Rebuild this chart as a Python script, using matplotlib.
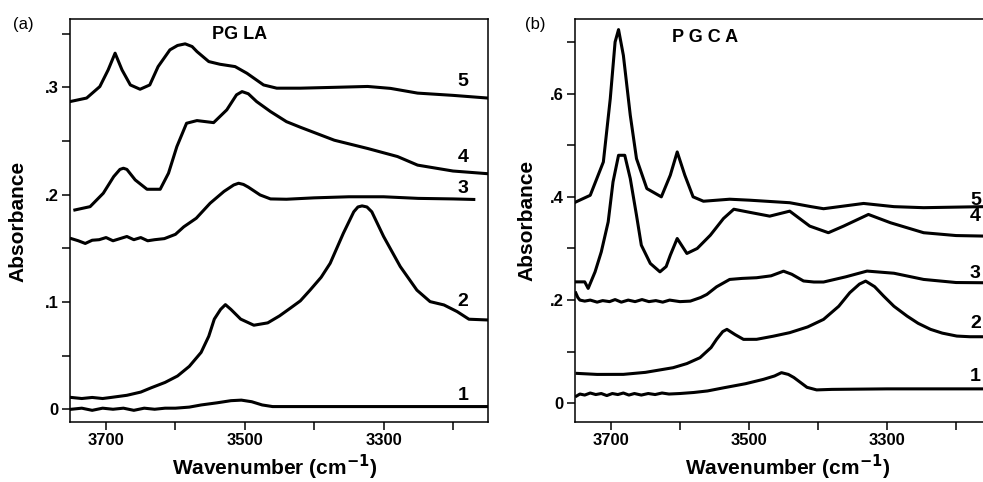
import matplotlib
matplotlib.use("Agg")
import matplotlib.pyplot as plt
from matplotlib.ticker import FixedLocator, MultipleLocator, FuncFormatter

plt.rcParams['font.family'] = ['Liberation Sans', 'DejaVu Sans']

# ---- (a) PGLA spectra: wavenumber / absorbance pairs ----
a1_w = [3750, 3735, 3720, 3705, 3690, 3675, 3660, 3645, 3630, 3615, 3600, 3580, 3563, 3540,
        3520, 3505, 3490, 3475, 3460, 3400, 3300, 3150]
a1_y = [0.000, 0.001, -0.001, 0.001, 0.000, 0.001, -0.001, 0.001, 0.000, 0.001, 0.001, 0.002,
        0.004, 0.006, 0.008, 0.0085, 0.007, 0.004, 0.0025, 0.0025, 0.0025, 0.0025]

a2_w = [3750, 3735, 3720, 3705, 3693, 3670, 3650, 3635, 3615, 3597, 3580, 3563, 3552, 3544,
        3535, 3528, 3520, 3506, 3487, 3467, 3450, 3434, 3420, 3406, 3390, 3377, 3358, 3343,
        3337, 3331, 3324, 3317, 3300, 3276, 3252, 3233, 3213, 3194, 3177, 3150]
a2_y = [0.011, 0.010, 0.011, 0.010, 0.011, 0.013, 0.016, 0.020, 0.025, 0.031, 0.040, 0.053,
        0.068, 0.084, 0.093, 0.0975, 0.093, 0.084, 0.0783, 0.0805, 0.087, 0.0944, 0.101, 0.111,
        0.123, 0.136, 0.164, 0.184, 0.1885, 0.1895, 0.1885, 0.184, 0.161, 0.133, 0.111, 0.1003,
        0.0972, 0.091, 0.0839, 0.0832]

a3_w = [3750, 3740, 3730, 3720, 3710, 3700, 3690, 3680, 3670, 3660, 3650, 3640, 3630, 3616,
        3600, 3588, 3570, 3550, 3530, 3516, 3509, 3502, 3495, 3478, 3463, 3440, 3400, 3350,
        3300, 3250, 3200, 3170]
a3_y = [0.159, 0.157, 0.1545, 0.1575, 0.158, 0.160, 0.157, 0.159, 0.161, 0.158, 0.160, 0.157,
        0.158, 0.159, 0.163, 0.170, 0.178, 0.192, 0.203, 0.209, 0.2106, 0.2095, 0.207, 0.1997,
        0.196, 0.1957, 0.197, 0.198, 0.198, 0.1965, 0.196, 0.1955]

a4_w = [3745, 3723, 3704, 3689, 3680, 3675, 3670, 3658, 3641, 3622, 3610, 3598, 3584, 3569,
        3545, 3526, 3512, 3504, 3495, 3483, 3463, 3440, 3420, 3371, 3323, 3280, 3251, 3200,
        3150]
a4_y = [0.1857, 0.1888, 0.2013, 0.2168, 0.2235, 0.2246, 0.2235, 0.2137, 0.205, 0.205, 0.22,
        0.2447, 0.2665, 0.269, 0.2671, 0.279, 0.293, 0.296, 0.294, 0.2867, 0.2774, 0.268,
        0.2628, 0.2507, 0.243, 0.2355, 0.2275, 0.222, 0.2195]

a5_w = [3752, 3728, 3709, 3697, 3687, 3677, 3665, 3651, 3637, 3625, 3608, 3597, 3586, 3576,
        3569, 3552, 3536, 3514, 3497, 3473, 3454, 3420, 3370, 3323, 3290, 3251, 3200, 3150]
a5_y = [0.2867, 0.290, 0.3007, 0.3162, 0.3318, 0.3162, 0.3022, 0.2982, 0.3022, 0.3193, 0.3349,
        0.339, 0.3405, 0.338, 0.3333, 0.324, 0.3215, 0.3193, 0.3131, 0.3022, 0.2992, 0.2992,
        0.300, 0.3008, 0.299, 0.2946, 0.2925, 0.290]

# ---- (b) PGCA spectra ----
b1_w = [3750, 3745, 3738, 3730, 3722, 3714, 3706, 3698, 3690, 3682, 3674, 3666, 3656, 3646,
        3636, 3626, 3616, 3600, 3580, 3560, 3537, 3505, 3479, 3463, 3453, 3443, 3435, 3425,
        3416, 3402, 3380, 3300, 3160]
b1_y = [0.014, 0.018, 0.016, 0.020, 0.017, 0.019, 0.015, 0.019, 0.017, 0.020, 0.016, 0.019,
        0.016, 0.019, 0.017, 0.020, 0.018, 0.019, 0.021, 0.024, 0.030, 0.038, 0.0465, 0.053,
        0.0594, 0.056, 0.050, 0.040, 0.031, 0.026, 0.027, 0.028, 0.028]

b2_w = [3749, 3720, 3682, 3650, 3610, 3590, 3571, 3555, 3547, 3538, 3532, 3520, 3508, 3489,
        3465, 3441, 3415, 3392, 3370, 3354, 3340, 3331, 3318, 3305, 3290, 3271, 3255, 3237,
        3220, 3199, 3180, 3160]
b2_y = [0.058, 0.056, 0.0561, 0.060, 0.069, 0.077, 0.0884, 0.108, 0.1239, 0.139, 0.1433, 0.133,
        0.1239, 0.124, 0.130, 0.1369, 0.148, 0.1626, 0.188, 0.2143, 0.231, 0.2368, 0.226,
        0.2078, 0.188, 0.169, 0.155, 0.1433, 0.136, 0.1303, 0.129, 0.129]

b3_w = [3751, 3748, 3745, 3738, 3730, 3720, 3712, 3702, 3694, 3685, 3675, 3665, 3655, 3645,
        3635, 3625, 3615, 3600, 3585, 3570, 3561, 3547, 3528, 3510, 3489, 3468, 3450, 3438,
        3421, 3406, 3392, 3360, 3329, 3290, 3247, 3200, 3160]
b3_y = [0.214, 0.205, 0.200, 0.198, 0.200, 0.196, 0.199, 0.197, 0.201, 0.196, 0.200, 0.197,
        0.201, 0.197, 0.199, 0.196, 0.200, 0.197, 0.198, 0.205, 0.211, 0.2257, 0.240, 0.242,
        0.2433, 0.247, 0.256, 0.250, 0.237, 0.235, 0.235, 0.245, 0.2562, 0.252, 0.240, 0.234,
        0.2336]

b4_w = [3751, 3738, 3733, 3723, 3714, 3704, 3697, 3689, 3680, 3672, 3663, 3656, 3643, 3629,
        3620, 3614, 3604, 3590, 3575, 3556, 3537, 3522, 3499, 3470, 3441, 3412, 3385, 3363,
        3327, 3295, 3247, 3200, 3160]
b4_y = [0.2353, 0.2353, 0.2226, 0.2547, 0.2934, 0.3515, 0.4289, 0.4805, 0.4805, 0.4354, 0.3644,
        0.3064, 0.271, 0.2547, 0.265, 0.287, 0.3193, 0.2903, 0.300, 0.3257, 0.358, 0.376, 0.370,
        0.3626, 0.3723, 0.3433, 0.3305, 0.3433, 0.3659, 0.3498, 0.3305, 0.325, 0.324]

b5_w = [3751, 3730, 3711, 3701, 3694, 3689, 3682, 3672, 3663, 3648, 3627, 3614, 3604, 3593,
        3581, 3566, 3528, 3499, 3441, 3410, 3392, 3334, 3290, 3247, 3160]
b5_y = [0.390, 0.403, 0.4676, 0.590, 0.700, 0.724, 0.674, 0.558, 0.474, 0.416, 0.400, 0.442,
        0.487, 0.442, 0.400, 0.3915, 0.3954, 0.3935, 0.3886, 0.381, 0.377, 0.3872, 0.381, 0.379,
        0.381]

curve_names = ['1', '2', '3', '4', '5']
a_label_y = [0.013, 0.100, 0.206, 0.235, 0.305]
b_label_y = [0.0515, 0.155, 0.2516, 0.361, 0.3935]
x_major = [3700, 3500, 3300]
x_minor = [3600, 3400, 3200]


def yfmt(v, pos):
    if abs(v) < 1e-9:
        return '0'
    return ('%.1f' % v).lstrip('0')


def style_axes(ax, xlim, ylim, ymajor):
    ax.set_xlim(*xlim)
    ax.set_ylim(*ylim)
    ax.xaxis.set_major_locator(FixedLocator(x_major))
    ax.xaxis.set_minor_locator(FixedLocator(x_minor))
    ax.yaxis.set_major_locator(MultipleLocator(ymajor))
    ax.yaxis.set_minor_locator(MultipleLocator(ymajor / 2))
    ax.yaxis.set_major_formatter(FuncFormatter(yfmt))
    ax.tick_params(which='both', direction='out', length=6, width=1.1, pad=2,
                   top=False, right=False)
    ax.tick_params(which='minor', labelbottom=False, labelleft=False)
    for t in ax.get_xticklabels() + ax.get_yticklabels():
        t.set_fontweight('bold')
        t.set_fontsize(12)
    for s in ax.spines.values():
        s.set_linewidth(1.1)


fig = plt.figure(figsize=(9.83, 4.82), dpi=100)
axa = fig.add_axes([0.0712, 0.1251, 0.4249, 0.8349])
axb = fig.add_axes([0.585, 0.1251, 0.415, 0.836])

for w, y in [(a1_w, a1_y), (a2_w, a2_y), (a3_w, a3_y), (a4_w, a4_y), (a5_w, a5_y)]:
    axa.plot(w, y, color='black', lw=2.2, solid_joinstyle='round')
for w, y in [(b1_w, b1_y), (b2_w, b2_y), (b3_w, b3_y), (b4_w, b4_y), (b5_w, b5_y)]:
    axb.plot(w, y, color='black', lw=2.2, solid_joinstyle='round')

style_axes(axa, (3752, 3150), (-0.0116, 0.3634), 0.1)
style_axes(axb, (3752, 3161), (-0.0356, 0.745), 0.2)
axb.spines['right'].set_visible(False)

for name, yy in zip(curve_names, a_label_y):
    axa.text(3186, yy, name, ha='center', va='center', fontsize=14, fontweight='bold')
for name, yy in zip(curve_names, b_label_y):
    axb.text(3172, yy, name, ha='center', va='center', fontsize=14, fontweight='bold')

axa.text(3508, 0.349, 'PG LA', ha='center', va='center', fontsize=13, fontweight='bold')
axb.text(3564, 0.7095, 'P G C A', ha='center', va='center', fontsize=13, fontweight='bold')

fig.text(23 / 983, 1 - 25 / 482, '(a)', ha='center', va='center', fontsize=12)
fig.text(535 / 983, 1 - 25 / 482, '(b)', ha='center', va='center', fontsize=12)

fig.text(18 / 983, 1 - 221 / 482, 'Absorbance', rotation=90, ha='center', va='center',
         fontsize=15, fontweight='bold')
fig.text(527 / 983, 1 - 220 / 482, 'Absorbance', rotation=90, ha='center', va='center',
         fontsize=15, fontweight='bold')
fig.text(275 / 983, 1 - 467 / 482, 'Wavenumber (cm$^{\\mathbf{-1}}$)', ha='center', va='center',
         fontsize=15, fontweight='bold')
fig.text(788 / 983, 1 - 467 / 482, 'Wavenumber (cm$^{\\mathbf{-1}}$)', ha='center', va='center',
         fontsize=15, fontweight='bold')

fig.savefig('out.png', dpi=100)
